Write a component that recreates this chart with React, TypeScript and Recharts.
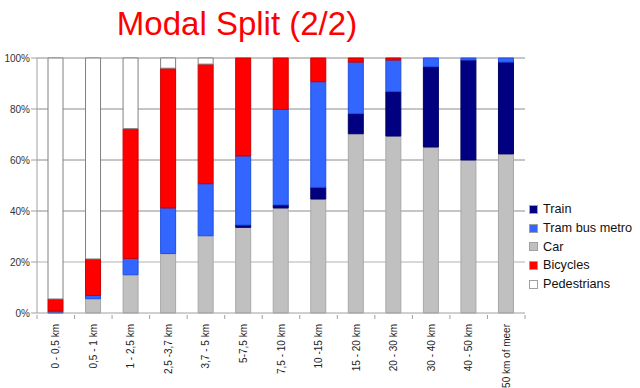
import React from 'react';
import {
  BarChart,
  Bar,
  XAxis,
  YAxis,
  CartesianGrid,
} from 'recharts';

const categories = [
  '0 - 0,5 km',
  '0,5 - 1 km',
  '1 - 2,5 km',
  '2,5 -3,7 km',
  '3,7 - 5 km',
  '5-7,5 km',
  '7,5 - 10 km',
  '10 -15 km',
  '15 - 20 km',
  '20 - 30 km',
  '30 - 40 km',
  '40 - 50 km',
  '50 km of meer',
];

// percentages per distance class
const car = [0, 5.6, 15.0, 23.3, 30.3, 33.6, 41.2, 44.7, 70.3, 69.4, 65.1, 60.0, 62.4];
const train = [0.4, 0, 0, 0, 0, 0.9, 1.2, 4.6, 7.9, 17.5, 31.5, 39.2, 36.0];
const tram = [0.4, 1.3, 6.4, 17.9, 20.4, 27.1, 37.5, 41.4, 20.2, 12.3, 3.4, 0.8, 1.6];
const bicycles = [4.7, 14.3, 50.9, 54.8, 46.9, 38.4, 20.1, 9.3, 1.6, 0.8, 0, 0, 0];
const pedestrians = [94.5, 78.8, 27.7, 4.0, 2.4, 0, 0, 0, 0, 0, 0, 0, 0];

const yTicks = [0, 20, 40, 60, 80, 100];

const data = categories.map((name, i) => ({
  name,
  car: car[i],
  train: train[i],
  tram: tram[i],
  bicycles: bicycles[i],
  pedestrians: pedestrians[i],
}));

const legendItems = [
  { label: 'Train', color: '#000080' },
  { label: 'Tram bus metro', color: '#3366FF' },
  { label: 'Car', color: '#C0C0C0' },
  { label: 'Bicycles', color: '#FF0000' },
  { label: 'Pedestrians', color: '#FFFFFF' },
];

const FONT = '"Liberation Sans", Arial, sans-serif';
const WIDTH = 640;
const HEIGHT = 388;
const LEFT = 37;
const RIGHT_MARGIN = 115;
const BAND = (WIDTH - LEFT - RIGHT_MARGIN) / categories.length;

function XTick(props: any) {
  const { x, y, payload, index } = props;
  const last = index === categories.length - 1;
  return (
    <g>
      <line x1={x - BAND / 2} y1={y - 4} x2={x - BAND / 2} y2={y} stroke="#a0a0a0" />
      {last && (
        <line x1={x + BAND / 2} y1={y - 4} x2={x + BAND / 2} y2={y} stroke="#a0a0a0" />
      )}
      <text
        transform={`translate(${x + 3.5}, ${y + 5}) rotate(-90)`}
        textAnchor="end"
        fontSize={10}
        fill="#222"
        fontFamily={FONT}
      >
        {payload.value}
      </text>
    </g>
  );
}

export default function App() {
  return (
    <div style={{ position: 'absolute', left: 0, top: 0, width: WIDTH, height: HEIGHT, background: '#fff', fontFamily: FONT }}>
      <div
        style={{
          position: 'absolute',
          left: 0,
          width: 474,
          top: 5,
          textAlign: 'center',
          fontSize: 33,
          color: '#FF0000',
          lineHeight: '38px',
        }}
      >
        Modal Split (2/2)
      </div>
      <BarChart
        width={WIDTH}
        height={HEIGHT}
        data={data}
        margin={{ top: 58, right: RIGHT_MARGIN, bottom: 0, left: 0 }}
        barSize={15}
      >
        <CartesianGrid vertical={false} horizontalValues={[40, 60, 80, 100]} stroke="#8c8c8c" />
        <CartesianGrid vertical={false} horizontalValues={[20]} stroke="#d8d8d8" strokeWidth={2} />
        <XAxis
          dataKey="name"
          interval={0}
          height={75}
          tickLine={false}
          axisLine={{ stroke: '#a0a0a0' }}
          tick={<XTick />}
          tickMargin={0}
        />
        <YAxis
          width={LEFT}
          domain={[0, 100]}
          ticks={yTicks}
          tickFormatter={(v: number) => `${v}%`}
          axisLine={{ stroke: '#a0a0a0' }}
          tickLine={{ stroke: '#a0a0a0' }}
          tickSize={6}
          tickMargin={1}
          tick={{ fontSize: 10, fill: '#333', fontFamily: FONT }}
        />
        <Bar dataKey="car" stackId="a" fill="#C0C0C0" stroke="#a8a8a8" isAnimationActive={false} />
        <Bar dataKey="train" stackId="a" fill="#000080" stroke="#000060" isAnimationActive={false} />
        <Bar dataKey="tram" stackId="a" fill="#3366FF" stroke="#1f4fe0" isAnimationActive={false} />
        <Bar dataKey="bicycles" stackId="a" fill="#FF0000" stroke="#cc0000" isAnimationActive={false} />
        <Bar dataKey="pedestrians" stackId="a" fill="#FFFFFF" stroke="#808080" isAnimationActive={false} />
      </BarChart>
      <div style={{ position: 'absolute', left: 529, top: 200 }}>
        {legendItems.map((item) => (
          <div key={item.label} style={{ display: 'flex', alignItems: 'center', height: 18.7, fontSize: 12.7, color: '#111' }}>
            <span
              style={{
                display: 'inline-block',
                width: 7,
                height: 7,
                background: item.color,
                border: '1px solid #a0a0a0',
                marginRight: 5,
              }}
            />
            {item.label}
          </div>
        ))}
      </div>
    </div>
  );
}
